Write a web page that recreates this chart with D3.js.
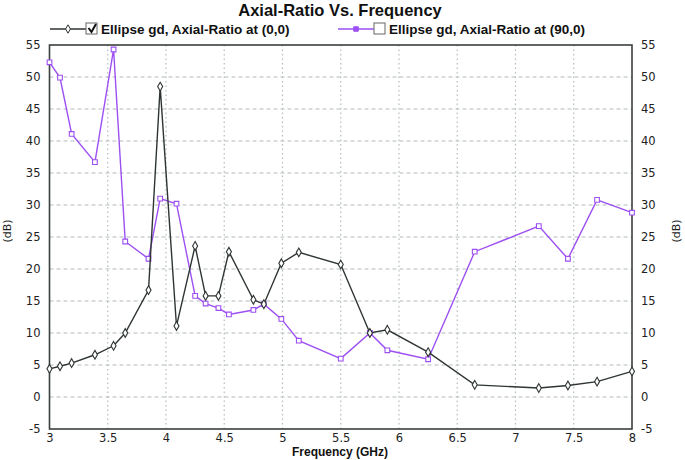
<!DOCTYPE html>
<html>
<head>
<meta charset="utf-8">
<script src="https://cdn.jsdelivr.net/npm/d3@7"></script>
<style>
  body { margin: 0; background: #fff; }
  text { font-family: "DejaVu Sans", sans-serif; }
</style>
</head>
<body>
<svg width="685" height="460"></svg>
<script>
// frequencies (GHz), shared by both traces
var freq = [3.0, 3.09, 3.19, 3.39, 3.55, 3.65, 3.85, 3.95, 4.09, 4.25, 4.34, 4.45, 4.54,
            4.75, 4.84, 4.99, 5.14, 5.5, 5.75, 5.9, 6.25, 6.65, 7.2, 7.45, 7.7, 8.0];
// axial ratio at (0,0), dB
var ar0 = [4.4, 4.8, 5.3, 6.6, 8.0, 10.0, 16.7, 48.5, 11.1, 23.6, 15.8, 15.8, 22.7,
           15.2, 14.5, 20.9, 22.6, 20.7, 10.0, 10.5, 7.0, 1.9, 1.4, 1.8, 2.4, 4.0];
// axial ratio at (90,0), dB
var ar90 = [52.3, 49.9, 41.1, 36.7, 54.3, 24.3, 21.6, 31.0, 30.2, 15.8, 14.6, 13.9, 12.9,
            13.6, 14.5, 12.2, 8.8, 6.0, 10.0, 7.3, 5.9, 22.7, 26.7, 21.6, 30.8, 28.8];
var xTicks = [3, 3.5, 4, 4.5, 5, 5.5, 6, 6.5, 7, 7.5, 8];
var yTicks = [-5, 0, 5, 10, 15, 20, 25, 30, 35, 40, 45, 50, 55];
var names = ["Ellipse gd, Axial-Ratio at (0,0)", "Ellipse gd, Axial-Ratio at (90,0)"];

var svg = d3.select("svg");
var plotL = 49.5, plotR = 632, plotT = 45, plotB = 429;

var x = d3.scaleLinear().domain([3, 8]).range([plotL, plotR]);
var y = d3.scaleLinear().domain([-5, 55]).range([plotB, plotT]);

var black = "#2e3532", purple = "#9d4ff2";

// grid
svg.append("g").selectAll("line")
    .data(xTicks.slice(1, -1))
    .enter().append("line")
    .attr("x1", function(d) { return x(d); })
    .attr("x2", function(d) { return x(d); })
    .attr("y1", plotT).attr("y2", plotB)
    .attr("stroke", "#b4bcbc").attr("stroke-width", 1.2)
    .attr("stroke-dasharray", "1.5,3");

svg.append("g").selectAll("line")
    .data(yTicks.slice(1, -1))
    .enter().append("line")
    .attr("x1", plotL).attr("x2", plotR)
    .attr("y1", function(d) { return y(d); })
    .attr("y2", function(d) { return y(d); })
    .attr("stroke", "#b4bcbc").attr("stroke-width", 1.2)
    .attr("stroke-dasharray", "4,3");

// frame
svg.append("rect")
    .attr("x", plotL).attr("y", plotT)
    .attr("width", plotR - plotL).attr("height", plotB - plotT)
    .attr("fill", "none").attr("stroke", "#3a403e").attr("stroke-width", 1.6);

// axes (labels only)
var fmt = function(d) { return String(d); };
var yl = d3.axisLeft(y).tickValues(yTicks).tickSize(0).tickPadding(9).tickFormat(fmt);
var yr = d3.axisRight(y).tickValues(yTicks).tickSize(0).tickPadding(9).tickFormat(fmt);
var xb = d3.axisBottom(x).tickValues(xTicks).tickSize(0).tickPadding(5).tickFormat(fmt);

function style(g) {
  g.select(".domain").remove();
  g.selectAll("text").style("font-family", "DejaVu Sans, sans-serif")
    .style("font-size", "11.5px").attr("fill", "#222");
}
svg.append("g").attr("transform", "translate(" + plotL + ",0)").call(yl).call(style);
svg.append("g").attr("transform", "translate(" + plotR + ",0)").call(yr).call(style);
svg.append("g").attr("transform", "translate(0," + plotB + ")").call(xb).call(style);

// axis titles
svg.append("text").attr("transform", "translate(11,231) rotate(-90)")
    .attr("text-anchor", "middle").style("font-size", "11px").attr("fill", "#222")
    .text("(dB)");
svg.append("text").attr("transform", "translate(680,231) rotate(-90)")
    .attr("text-anchor", "middle").style("font-size", "11px").attr("fill", "#222")
    .text("(dB)");
svg.append("text").attr("x", 340).attr("y", 456)
    .attr("text-anchor", "middle")
    .style("font-family", "Liberation Sans, Arial, sans-serif")
    .style("font-weight", "bold").style("font-size", "12px").attr("fill", "#111")
    .text("Frequency (GHz)");

// title
svg.append("text").attr("x", 340).attr("y", 16)
    .attr("text-anchor", "middle")
    .style("font-family", "Liberation Sans, Arial, sans-serif")
    .style("font-weight", "bold").style("font-size", "16.5px").attr("fill", "#111")
    .text("Axial-Ratio Vs. Frequency");

// series
var line = d3.line()
    .x(function(d) { return x(d[0]); })
    .y(function(d) { return y(d[1]); });

var series = [
  {vals: ar90, color: purple, sym: d3.symbolSquare, size: 22},
  {vals: ar0, color: black, sym: d3.symbolDiamond, size: 22}
];

series.forEach(function(s) {
  var pts = freq.map(function(f, i) { return [f, s.vals[i]]; });
  svg.append("path").datum(pts)
      .attr("d", line)
      .attr("fill", "none").attr("stroke", s.color).attr("stroke-width", 1.4);
  svg.append("g").selectAll("path")
      .data(pts)
      .enter().append("path")
      .attr("transform", function(d) { return "translate(" + x(d[0]) + "," + y(d[1]) + ")"; })
      .attr("d", d3.symbol().type(s.sym).size(s.size))
      .attr("fill", "#fff").attr("stroke", s.color).attr("stroke-width", 1.1);
});

// legend
var legend = [
  {x: 50, color: black, sym: d3.symbolDiamond, checked: true, name: names[0]},
  {x: 338, color: purple, sym: d3.symbolSquare, checked: false, name: names[1]}
];
legend.forEach(function(l) {
  var g = svg.append("g").attr("transform", "translate(" + l.x + ",29)");
  g.append("line").attr("x1", 0).attr("x2", 36).attr("y1", 0).attr("y2", 0)
      .attr("stroke", l.color).attr("stroke-width", 1.6);
  g.append("path").attr("transform", "translate(18,0)")
      .attr("d", d3.symbol().type(l.sym).size(20))
      .attr("fill", l.checked ? "#fff" : l.color).attr("stroke", l.color);
  g.append("rect").attr("x", 36).attr("y", -6).attr("width", 11).attr("height", 11)
      .attr("fill", "#fff").attr("stroke", "#666").attr("stroke-width", 1);
  if (l.checked) {
    g.append("path").attr("d", "M38.5,-1 L41.5,3 L46,-5")
        .attr("fill", "none").attr("stroke", "#111").attr("stroke-width", 2);
  }
  g.append("text").attr("x", 51).attr("y", 5)
      .style("font-family", "Liberation Sans, Arial, sans-serif")
      .style("font-weight", "bold").style("font-size", "13.5px").attr("fill", "#111")
      .text(l.name);
});
</script>
</body>
</html>
